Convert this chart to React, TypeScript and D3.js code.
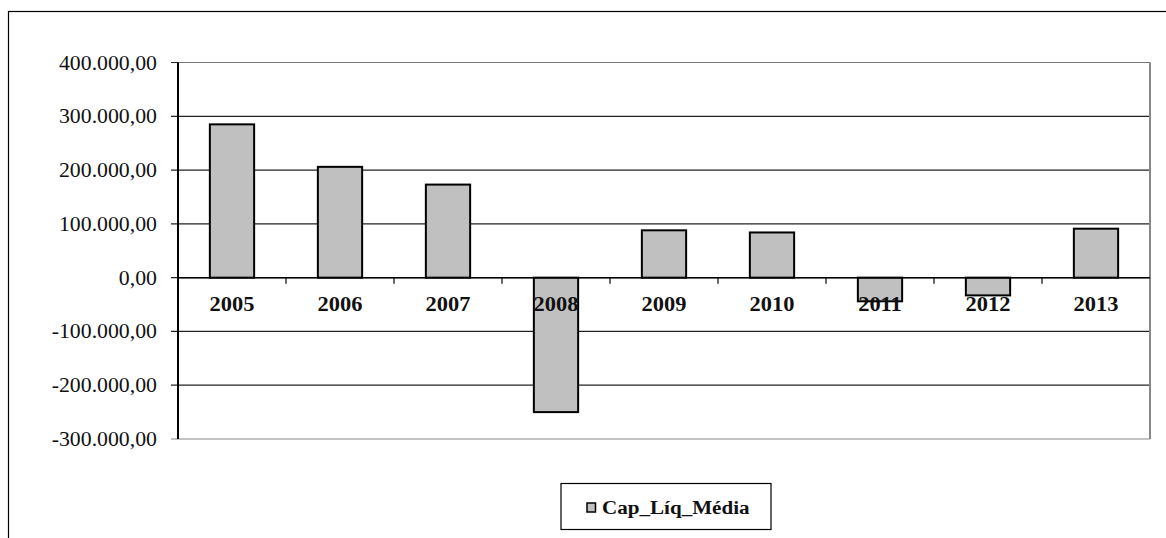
import React from "react";
import * as d3 from "d3";

// Cap_Líq_Média per year
const years = ["2005", "2006", "2007", "2008", "2009", "2010", "2011", "2012", "2013"];
const capLiqMedia = [285000, 206000, 173000, -250000, 88000, 84000, -44000, -33000, 91000];
const yTicks = [400000, 300000, 200000, 100000, 0, -100000, -200000, -300000];
const seriesName = "Cap_Líq_Média";

const W = 1166;
const H = 538;
const plot = { left: 178, right: 1150, top: 62.5, bottom: 439 };

const fmt = (v: number) => {
  const s = Math.abs(v).toFixed(0).replace(/\B(?=(\d{3})+(?!\d))/g, ".");
  return (v < 0 ? "-" : "") + s + ",00";
};

export default function App() {
  const x = d3.scaleBand<string>().domain(years).range([plot.left, plot.right]).paddingInner(0.59).paddingOuter(0.295);
  const step = x.step();
  const y = d3.scaleLinear().domain([-300000, 400000]).range([plot.bottom, plot.top]);
  const y0 = y(0);
  const font = "'Liberation Serif', 'Times New Roman', serif";

  return (
    <svg width={W} height={H} style={{ position: "absolute", left: 0, top: 0, background: "#fff" }}>
      {/* outer chart frame */}
      <rect x={8.5} y={11.5} width={W + 20} height={H + 20} fill="none" stroke="#000" strokeWidth={1.2} />

      {/* gridlines */}
      {yTicks.map((t) => (
        <line key={t} x1={plot.left - 7} x2={plot.right} y1={y(t)} y2={y(t)} stroke={t === -300000 ? "#888" : "#222"} strokeWidth={1.2} />
      ))}
      {/* plot frame: right edge in grey */}
      <line x1={plot.right} x2={plot.right} y1={plot.top} y2={plot.bottom} stroke="#888" strokeWidth={2} />
      <line x1={plot.left} x2={plot.right} y1={plot.top} y2={plot.top} stroke="#777" strokeWidth={1.2} />

      {/* y tick labels */}
      {yTicks.map((t) => (
        <text key={t} transform={`translate(157,${y(t)}) scale(1.09,1)`} dy="0.35em" textAnchor="end" fontFamily={font} fontSize={20} fill="#111">
          {fmt(t)}
        </text>
      ))}

      {/* bars */}
      {years.map((yr, i) => {
        const v = capLiqMedia[i];
        const top = Math.min(y(v), y0);
        const h = Math.abs(y(v) - y0);
        return (
          <rect key={yr} x={x(yr)} y={top} width={x.bandwidth()} height={h} fill="#c0c0c0" stroke="#000" strokeWidth={2} />
        );
      })}

      {/* category axis at zero */}
      <line x1={plot.left} x2={plot.right} y1={y0} y2={y0} stroke="#000" strokeWidth={1.5} />
      {years.slice(1).map((yr, i) => {
        const tx = plot.left + step * (i + 1);
        return <line key={yr} x1={tx} x2={tx} y1={y0} y2={y0 + 6} stroke="#000" strokeWidth={1.2} />;
      })}
      {years.map((yr) => (
        <text key={yr} transform={`translate(${(x(yr) as number) + x.bandwidth() / 2},${y0 + 33}) scale(1.07,1)`} textAnchor="middle" fontFamily={font} fontSize={21} fontWeight="bold" fill="#111">
          {yr}
        </text>
      ))}

      {/* value axis */}
      <line x1={plot.left} x2={plot.left} y1={plot.top} y2={plot.bottom} stroke="#000" strokeWidth={2} />

      {/* legend */}
      <rect x={561} y={483.5} width={210} height={46} fill="#fff" stroke="#000" strokeWidth={1.2} />
      <rect x={587} y={503} width={8.5} height={9} fill="#c0c0c0" stroke="#000" strokeWidth={1.5} />
      <text transform="translate(602,514) scale(1.11,1)" fontFamily={font} fontSize={19} fontWeight="bold" fill="#111">
        {seriesName}
      </text>
    </svg>
  );
}
